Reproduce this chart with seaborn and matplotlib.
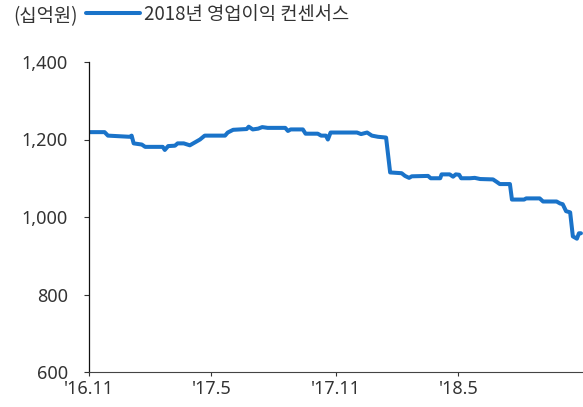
import matplotlib
matplotlib.use("Agg")
import matplotlib.pyplot as plt
import matplotlib.ticker as mticker
import seaborn as sns
import pandas as pd

# ---- data ----
dates = [
    "2016-11-01", "2016-11-24", "2016-11-29", "2016-12-31", "2017-01-03", "2017-01-06",
    "2017-01-18", "2017-01-23", "2017-02-18", "2017-02-21", "2017-02-26", "2017-03-08",
    "2017-03-12", "2017-03-21", "2017-03-30", "2017-04-07", "2017-04-14", "2017-04-21",
    "2017-05-21", "2017-05-25", "2017-06-02", "2017-06-22", "2017-06-25", "2017-07-01",
    "2017-07-09", "2017-07-15", "2017-07-23", "2017-08-18", "2017-08-22", "2017-08-26",
    "2017-09-13", "2017-09-17", "2017-10-05", "2017-10-10", "2017-10-17", "2017-10-20",
    "2017-10-24", "2017-12-02", "2017-12-08", "2017-12-17", "2017-12-24", "2018-01-02",
    "2018-01-14", "2018-01-20", "2018-02-06", "2018-02-11", "2018-02-17", "2018-02-21",
    "2018-03-17", "2018-03-21", "2018-04-04", "2018-04-06", "2018-04-18", "2018-04-23",
    "2018-04-27", "2018-05-02", "2018-05-05", "2018-05-18", "2018-05-25", "2018-06-02",
    "2018-06-21", "2018-06-27", "2018-07-01", "2018-07-16", "2018-07-19", "2018-08-06",
    "2018-08-09", "2018-08-29", "2018-09-03", "2018-09-23", "2018-09-28", "2018-10-02",
    "2018-10-07", "2018-10-13", "2018-10-17", "2018-10-23", "2018-10-26", "2018-10-29",
]
consensus = [
    1219, 1219, 1210, 1207, 1210, 1190,
    1187, 1181, 1181, 1173, 1183, 1184,
    1190, 1190, 1185, 1193, 1200, 1210,
    1210, 1218, 1225, 1227, 1233, 1226,
    1228, 1232, 1230, 1230, 1222, 1226,
    1226, 1215, 1215, 1210, 1210, 1200,
    1218, 1218, 1214, 1218, 1210, 1207,
    1205, 1115, 1113, 1106, 1101, 1105,
    1106, 1100, 1100, 1110, 1110, 1104,
    1110, 1109, 1100, 1100, 1101, 1098,
    1097, 1090, 1085, 1085, 1045, 1045,
    1048, 1048, 1040, 1040, 1035, 1033,
    1015, 1012, 950, 944, 958, 958,
]
tick_dates = ["2016-11-01", "2017-05-01", "2017-11-01", "2018-05-01"]
tick_labels = ["'16.11", "'17.5", "'17.11", "'18.5"]
y_ticks = [600, 800, 1000, 1200, 1400]
series_name = "2018년 영업이익 컨센서스"
unit_label = "(십억원)"

df = pd.DataFrame({"date": pd.to_datetime(dates), "value": consensus})

sns.set_style("ticks")
plt.rcParams["font.family"] = ["Noto Sans", "Noto Sans CJK KR", "DejaVu Sans"]

text_color = "#333333"
line_color = "#1a73c9"

fig = plt.figure(figsize=(5.83, 4.07), dpi=100)
ax = fig.add_axes([89 / 583, 1 - 372 / 407, 494 / 583, 310 / 407])

sns.lineplot(data=df, x="date", y="value", ax=ax, color=line_color,
             linewidth=2.9, label=series_name)

ax.set_xlim(pd.Timestamp("2016-11-01"), pd.Timestamp("2018-11-01"))
ax.set_ylim(600, 1400)
ax.set_xticks(pd.to_datetime(tick_dates))
ax.set_xticklabels(tick_labels)
ax.set_yticks(y_ticks)
ax.yaxis.set_major_formatter(mticker.FuncFormatter(lambda v, p: f"{int(v):,}"))
ax.set_xlabel("")
ax.set_ylabel("")

for s in ["top", "right"]:
    ax.spines[s].set_visible(False)
ax.spines["left"].set_color("#111111")
ax.spines["left"].set_linewidth(0.9)
ax.spines["bottom"].set_color("#444444")
ax.spines["bottom"].set_linewidth(0.8)

ax.tick_params(axis="y", direction="out", length=3.6, width=0.8, color="#333333",
               pad=11.5, labelsize=13, labelcolor=text_color)
ax.tick_params(axis="x", direction="out", length=3, width=0.8, color="#333333",
               pad=3, labelsize=13, labelcolor=text_color)

leg = ax.legend(loc="upper left", bbox_to_anchor=(82 / 583, 1.0),
                bbox_transform=fig.transFigure, frameon=False,
                prop={"family": ["Noto Sans CJK KR"], "size": 13.5},
                handlelength=2.9, handletextpad=0.2, borderaxespad=0.1,
                borderpad=0.1)
for t in leg.get_texts():
    t.set_color(text_color)
for h in leg.get_lines():
    h.set_linewidth(2.9)

fig.text(13 / 583, 1 - 17 / 407, unit_label, ha="left", va="center",
         fontsize=13.5, color=text_color, family=["Noto Sans CJK KR"])

fig.savefig("out.png", dpi=100)
